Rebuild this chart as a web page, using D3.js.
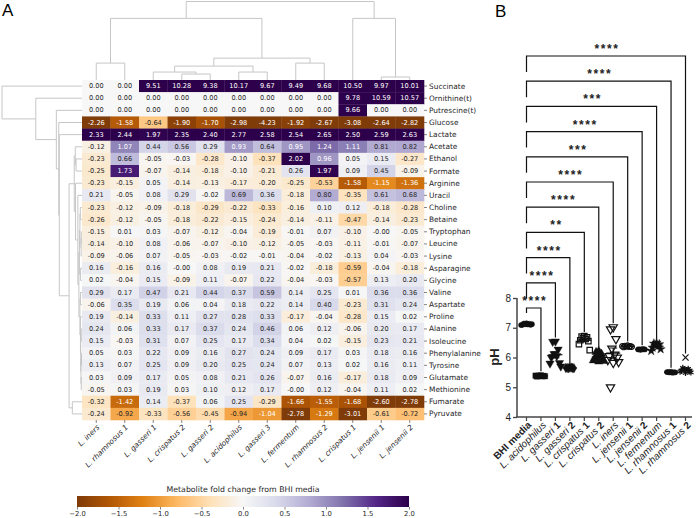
<!DOCTYPE html>
<html><head><meta charset="utf-8">
<script src="https://cdn.jsdelivr.net/npm/d3@7"></script>
<style>body{margin:0;background:#fff}svg{display:block}</style>
</head><body>
<svg id="c" width="696" height="518"></svg>
<script>
// ---------------- DATA ----------------
const strains = ["L. iners","L. rhamnosus 1","L. gasseri 1","L. crispatus 2","L. gasseri 2","L. acidophilus","L. gasseri 3","L. fermentum","L. rhamnosus 2","L. crispatus 1","L. jensenii 1","L. jensenii 2"];
const metabolites = ["Succinate","Ornithine(t)","Putrescine(t)","Glucose","Lactate","Acetate","Ethanol","Formate","Arginine","Uracil","Choline","Betaine","Tryptophan","Leucine","Lysine","Asparagine","Glycine","Valine","Aspartate","Proline","Alanine","Isoleucine","Phenylalanine","Tyrosine","Glutamate","Methionine","Fumarate","Pyruvate"];
const foldChange = [
 [0.00,0.00,9.51,10.28,9.38,10.17,9.67,9.49,9.68,10.50,9.97,10.01],
 [0.00,0.00,0.00,0.00,0.00,0.00,0.00,0.00,0.00,9.78,10.59,10.57],
 [0.00,0.00,0.00,0.00,0.00,0.00,0.00,0.00,0.00,9.66,0.00,0.00],
 [-2.26,-1.58,-0.64,-1.90,-1.70,-2.98,-4.23,-1.92,-2.67,-3.08,-2.64,-2.82],
 [2.33,2.44,1.97,2.35,2.40,2.77,2.58,2.54,2.65,2.50,2.59,2.63],
 [-0.12,1.07,0.44,0.56,0.29,0.93,0.64,0.95,1.24,1.11,0.81,0.82],
 [-0.23,0.66,-0.05,-0.03,-0.28,-0.10,-0.37,2.02,0.96,0.05,0.15,-0.27],
 [-0.25,1.73,-0.07,-0.14,-0.18,-0.10,-0.21,0.26,1.97,0.09,0.45,-0.09],
 [-0.23,-0.15,0.05,-0.14,-0.13,-0.17,-0.20,-0.25,-0.53,-1.58,-1.15,-1.36],
 [0.21,-0.05,0.08,0.29,-0.02,0.69,0.36,-0.18,0.80,-0.35,0.61,0.68],
 [-0.23,-0.12,-0.09,-0.18,-0.29,-0.22,-0.33,-0.16,0.10,0.12,-0.18,-0.28],
 [-0.26,-0.12,-0.05,-0.18,-0.22,-0.15,-0.24,-0.14,-0.11,-0.47,-0.14,-0.23],
 [-0.15,0.01,0.03,-0.07,-0.12,-0.04,-0.19,-0.01,0.07,-0.10,-0.001,-0.05],
 [-0.14,-0.10,0.08,-0.06,-0.07,-0.10,-0.12,-0.05,-0.03,-0.11,-0.01,-0.07],
 [-0.09,-0.06,0.07,-0.05,-0.03,-0.02,-0.01,-0.04,-0.02,-0.13,0.04,-0.03],
 [0.16,-0.16,0.16,-0.001,0.08,0.19,0.21,-0.02,-0.18,-0.59,-0.04,-0.18],
 [0.02,-0.04,0.15,-0.09,0.11,-0.07,0.22,-0.04,-0.03,-0.57,0.13,0.20],
 [0.29,0.17,0.47,0.21,0.44,0.37,0.59,0.14,0.25,0.01,0.36,0.36],
 [-0.06,0.35,0.19,0.06,0.04,0.18,0.22,0.14,0.40,-0.23,0.31,0.24],
 [0.19,-0.14,0.33,0.11,0.27,0.28,0.33,-0.17,-0.04,-0.28,0.15,0.02],
 [0.24,0.06,0.33,0.17,0.37,0.24,0.46,0.06,0.12,-0.06,0.20,0.17],
 [0.15,-0.03,0.31,0.07,0.25,0.17,0.34,0.04,0.02,-0.15,0.23,0.21],
 [0.05,0.03,0.22,0.09,0.16,0.27,0.24,0.09,0.17,0.03,0.18,0.16],
 [0.13,0.07,0.25,0.09,0.20,0.25,0.24,0.07,0.13,0.02,0.16,0.11],
 [0.03,0.09,0.17,0.05,0.08,0.21,0.26,-0.07,0.16,-0.17,0.18,0.09],
 [-0.05,0.03,0.19,0.03,0.10,0.12,0.17,-0.001,0.12,-0.04,0.11,0.02],
 [-0.32,-1.42,0.14,-0.37,0.06,0.25,-0.29,-1.66,-1.55,-1.68,-2.60,-2.78],
 [-0.24,-0.92,-0.33,-0.56,-0.45,-0.94,-1.04,-2.78,-1.29,-3.01,-0.61,-0.72]
];
const colorTicks = [-2.0,-1.5,-1.0,-0.5,0.0,0.5,1.0,1.5,2.0];
const puorColors = ["#7f3b08","#b35806","#e08214","#fdb863","#fee0b6","#f7f7f7","#d8daeb","#b2abd2","#8073ac","#542788","#2d004b"];
// column linkage: [childA, childB, distance]; leaves 0..11, new nodes numbered from 12
const colLinkage = [[3,4,1.8],[2,12,2.4],[5,6,2.4],[13,14,4.2],[7,8,5.1],[15,16,6.6],[0,1,5.1],[18,17,18.6],[10,11,0.9],[9,20,18.6],[19,21,23.7]];
// row linkage: leaves 0..27, new nodes numbered from 28
const rowLinkage = [
 [10,11,0.65],[12,13,0.3],[29,14,0.35],[28,30,0.8],[15,16,0.55],[31,32,1.0],
 [20,21,0.3],[22,23,0.2],[24,25,0.3],[35,36,0.4],[34,37,0.5],[19,38,0.6],[17,18,0.6],[40,39,0.8],
 [33,41,1.2],[9,42,1.6],[8,43,2.5],[6,7,2.3],[5,45,2.6],[46,44,3.0],[26,27,3.75],[47,48,5.0],
 [4,49,8.8],[3,50,9.0],[2,51,9.95],[1,52,17.9],[0,53,31]
];
// panel B
const groups = ["BHI media","L. acidophilus","L. gasseri 1","L. gasseri 2","L. crispatus 1","L. crispatus 2","L. iners","L. jensenii 1","L. jensenii 2","L. fermentum","L. rhamnosus 1","L. rhamnosus 2"];
const pH = [
 [7.15,7.14,7.13,7.12,7.11,7.10,7.10,7.09,7.12,7.13],
 [5.40,5.39,5.38,5.38,5.37,5.36,5.37,5.39],
 [6.54,6.53,6.27,6.12,6.05,6.00,5.82,5.80,5.70],
 [5.66,5.65,5.65,5.64,5.66,5.65,5.64],
 [6.72,6.70,6.68,6.65,6.62,6.58,6.55,6.45,6.25],
 [6.22,6.18,6.12,6.05,6.00,5.98,5.93,5.90,5.88,5.86],
 [7.02,6.95,6.62,6.30,6.10,6.05,6.00,5.92,5.85,5.82,5.00],
 [6.40,6.39,6.38,6.37,6.36,6.35,6.36,6.38],
 [6.28,6.27,6.27,6.26,6.28,6.27],
 [6.50,6.47,6.45,6.40,6.38,6.33,6.28,6.22],
 [5.52,5.51,5.50,5.50,5.49,5.51,5.50],
 [6.00,5.65,5.62,5.60,5.58,5.55,5.53,5.52,5.50,5.48]
];
const significance = ["****","****","****","**","****","****","***","****","***","****","****"];
const pHTicks = [4,5,6,7,8];
const markers = ["circle","square","triDown","diamond","squareOpen","tri","triDownOpen","circleOpen","circle","star","circle","asterisk"];

// ---------------- DRAW ----------------
const svg = d3.select("#c");
const DJ = "DejaVu Sans";
const AR = "Liberation Sans, Arial, sans-serif";

svg.append("text").attr("x",2).attr("y",16).attr("font-family",AR).attr("font-size",17).text("A");
svg.append("text").attr("x",495).attr("y",17).attr("font-family",AR).attr("font-size",17).text("B");

const hx = d3.scaleBand().domain(d3.range(strains.length)).range([82,424]);
const hy = d3.scaleBand().domain(d3.range(metabolites.length)).range([80,420]);
const cmap = d3.scaleLinear().domain(d3.range(11).map(i=>-2+0.4*i)).range(puorColors).interpolate(d3.interpolateRgb).clamp(true);
const colorVal = v => cmap(v);
function lum(c){const r=d3.rgb(c);const f=x=>{x/=255;return x<=0.03928?x/12.92:Math.pow((x+0.055)/1.055,2.4);};return 0.2126*f(r.r)+0.7152*f(r.g)+0.0722*f(r.b);}

const cells = [];
foldChange.forEach((row,i)=>row.forEach((v,j)=>cells.push({i,j,v})));
const g = svg.append("g");
g.selectAll("rect").data(cells).join("rect")
 .attr("x",d=>hx(d.j)).attr("y",d=>hy(d.i)).attr("width",hx.bandwidth()+0.3).attr("height",hy.bandwidth()+0.3)
 .attr("fill",d=>colorVal(d.v));
g.selectAll("text").data(cells).join("text")
 .attr("x",d=>hx(d.j)+hx.bandwidth()/2).attr("y",d=>hy(d.i)+hy.bandwidth()/2)
 .attr("text-anchor","middle").attr("dominant-baseline","central")
 .attr("font-family",DJ).attr("font-size",6.6)
 .attr("fill",d=>lum(colorVal(d.v))<0.408?"#fff":"#262626")
 .text(d=>d.v.toFixed(2));

// row labels + ticks
metabolites.forEach((m,i)=>{
 const yc=hy(i)+hy.bandwidth()/2;
 svg.append("line").attr("x1",424).attr("x2",427).attr("y1",yc).attr("y2",yc).attr("stroke","#333").attr("stroke-width",0.6);
 svg.append("text").attr("x",429).attr("y",yc).attr("dominant-baseline","central").attr("font-family",DJ).attr("font-size",7.4).attr("fill","#262626").text(m);
});
// column labels
strains.forEach((s,j)=>{
 const xc=hx(j)+hx.bandwidth()/2;
 svg.append("line").attr("x1",xc).attr("x2",xc).attr("y1",420).attr("y2",423).attr("stroke","#333").attr("stroke-width",0.6);
 svg.append("text").attr("transform",`translate(${xc+2},${426}) rotate(-45)`).attr("text-anchor","end").attr("dominant-baseline","central")
  .attr("font-family",DJ).attr("font-size",7.4).attr("font-style","italic").attr("fill","#262626").text(s);
});

// dendrograms
function drawDendro(linkage, nLeaves, leafPos, hScale, horizontal){
 const pos = d3.range(nLeaves).map(leafPos), hh = d3.range(nLeaves).map(()=>0);
 const path = d3.path();
 linkage.forEach(([a,b,h])=>{
  const pa=pos[a],pb=pos[b];
  if(!horizontal){ path.moveTo(pa,hScale(hh[a])); path.lineTo(pa,hScale(h)); path.lineTo(pb,hScale(h)); path.lineTo(pb,hScale(hh[b])); }
  else { path.moveTo(hScale(hh[a]),pa); path.lineTo(hScale(h),pa); path.lineTo(hScale(h),pb); path.lineTo(hScale(hh[b]),pb); }
  pos.push((pa+pb)/2); hh.push(h);
 });
 svg.append("path").attr("d",path.toString()).attr("fill","none").attr("stroke","#c6c6c6").attr("stroke-width",1);
}
drawDendro(colLinkage, strains.length, j=>hx(j)+hx.bandwidth()/2, d3.scaleLinear().domain([0,23.7]).range([80,1.5]), false);
drawDendro(rowLinkage, metabolites.length, i=>hy(i)+hy.bandwidth()/2, d3.scaleLinear().domain([0,31]).range([82,2]), true);

// colorbar
const cbx = d3.scaleLinear().domain([-2,2]).range([77,409]);
const defs = svg.append("defs");
const grad = defs.append("linearGradient").attr("id","cb");
d3.range(0,1.0001,0.025).forEach(t=>grad.append("stop").attr("offset",t).attr("stop-color",colorVal(-2+4*t)));
svg.append("rect").attr("x",77).attr("y",496).attr("width",332).attr("height",11).attr("fill","url(#cb)");
const cbAxis = svg.append("g").attr("transform","translate(0,507)")
 .call(d3.axisBottom(cbx).tickValues(colorTicks).tickFormat(d3.format(".1f")).tickSize(2.5).tickPadding(1.5));
cbAxis.select(".domain").remove();
cbAxis.selectAll("text").attr("font-family",DJ).attr("font-size",6.8).attr("fill","#262626");
cbAxis.selectAll("line").attr("stroke","#333").attr("stroke-width",0.6);
svg.append("text").attr("x",243).attr("y",492).attr("text-anchor","middle").attr("font-family",DJ).attr("font-size",7.8).attr("fill","#262626").text("Metabolite fold change from BHI media");

// ---------------- PANEL B ----------------
const bx = d3.scalePoint().domain(d3.range(groups.length)).range([526.5,685.5]);
const by = d3.scaleLinear().domain([4,8]).range([417,298]);
const B = svg.append("g");
const yAx = B.append("g").attr("transform","translate(517,0)").call(d3.axisLeft(by).tickValues(pHTicks).tickFormat(d3.format("d")).tickSize(4).tickPadding(2));
yAx.select(".domain").attr("stroke","#444").attr("stroke-width",1.5).attr("d","M0,298V417");
yAx.selectAll("line").attr("stroke","#444").attr("stroke-width",1.3);
yAx.selectAll("text").attr("font-family",AR).attr("font-size",10).attr("fill","#222");
B.append("line").attr("x1",516.3).attr("x2",692).attr("y1",417).attr("y2",417).attr("stroke","#444").attr("stroke-width",1.5);
groups.forEach((gname,k)=>{
 B.append("line").attr("x1",bx(k)).attr("x2",bx(k)).attr("y1",417).attr("y2",421).attr("stroke","#444").attr("stroke-width",1.2);
 const t = B.append("text").attr("transform",`translate(${bx(k)+3},${423}) rotate(-45)`).attr("text-anchor","end").attr("dominant-baseline","central")
  .attr("font-family",AR).attr("font-size",10).attr("fill","#222");
 const m = gname.match(/^(.*) (\d)$/);
 if(gname.startsWith("L.")){
  t.append("tspan").attr("font-style","italic").text(m?m[1]:gname);
  if(m) t.append("tspan").attr("font-weight","bold").text(" "+m[2]);
 } else t.attr("font-weight","bold").text(gname);
});
B.append("text").attr("transform","translate(499,357) rotate(-90)").attr("text-anchor","middle").attr("font-family",AR).attr("font-size",13).attr("font-weight","bold").attr("fill","#222").text("pH");

const offs = [0,-3,3,-1.5,1.5,-4.5,4.5,-6,6,0,-3,3];
function sym(type){
 const s=3.2;
 switch(type){
  case "square": case "squareOpen": return `M${-s*0.85},${-s*0.85}h${1.7*s}v${1.7*s}h${-1.7*s}z`;
  case "tri": return d3.symbol(d3.symbolTriangle,30)();
  case "triDown": case "triDownOpen": return d3.symbol(d3.symbolTriangle,30)().replace(/(-?\d*\.?\d+),(-?\d*\.?\d+)/g,(a,x,y)=>`${x},${-y}`);
  case "diamond": return d3.symbol(d3.symbolDiamond,26)();
  case "star": return d3.symbol(d3.symbolStar,26)();
  case "asterisk": return d3.symbol(d3.symbolAsterisk,26)();
  case "times": return d3.symbol(d3.symbolTimes,26)();
  default: return d3.symbol(d3.symbolCircle,22)();
 }
}
pH.forEach((vals,k)=>{
 vals.forEach((v,j)=>{
  let type = markers[k];
  if(k===11 && j===0) type="times";
  const open = type.endsWith("Open")||type==="asterisk"||type==="times";
  B.append("path").attr("d",sym(type)).attr("transform",`translate(${bx(k)+offs[j%offs.length]*0.9},${by(v)})`)
   .attr("fill",open?"none":"#111").attr("stroke","#111").attr("stroke-width",open?1.2:0.4);
 });
 const mean=d3.mean(vals), sem=d3.deviation(vals)/Math.sqrt(vals.length);
 B.append("line").attr("x1",bx(k)-7).attr("x2",bx(k)+7).attr("y1",by(mean)).attr("y2",by(mean)).attr("stroke","#111").attr("stroke-width",1.2);
 B.append("path").attr("d",`M${bx(k)-4},${by(mean+sem)}H${bx(k)+4}M${bx(k)},${by(mean+sem)}V${by(mean-sem)}M${bx(k)-4},${by(mean-sem)}H${bx(k)+4}`)
  .attr("fill","none").attr("stroke","#111").attr("stroke-width",1.1);
});
// brackets
significance.forEach((s,i)=>{
 const k=i+1, yb=308-i*25.2;
 const top=by(d3.max(pH[k]))-4;
 const leftEnd = i===0? yb+5 : yb+16;
 B.append("path").attr("d",`M${bx(0)},${leftEnd}V${yb}H${bx(k)}V${top}`).attr("fill","none").attr("stroke","#111").attr("stroke-width",1.2);
 B.append("text").attr("x",(bx(0)+bx(k))/2+1).attr("y",yb-3).attr("text-anchor","middle").attr("font-family",AR).attr("font-size",12).attr("font-weight","bold").attr("letter-spacing",1.6).attr("fill","#222").text(s);
});
</script>
</body></html>
